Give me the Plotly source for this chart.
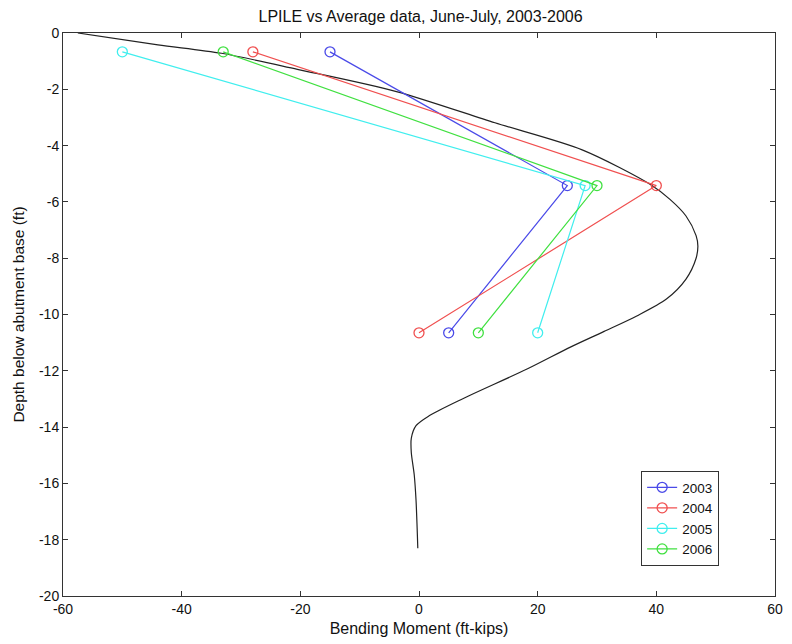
import plotly.graph_objects as go

# LPILE curve (moment ft-kips, depth ft)
lpile_moment = [-57.5, -44, -33.3, -20.5, -3.8, 12.8, 27.5, 39, 42.3, 45, 46.7, 47, 46.7, 45,
                41.7, 36.7, 31.2, 25.6, 18.3, 7.3, 1.7, -0.5, -1.3, -1.3, -0.8, -0.5, -0.2]
lpile_depth = [0, -0.42, -0.72, -1.29, -2.08, -3.19, -4.15, -5.38, -5.91, -6.5, -7.2, -7.57, -8.0, -8.74,
               -9.45, -10.05, -10.6, -11.15, -11.93, -13.0, -13.6, -13.95, -14.4, -14.9, -15.7, -16.6, -18.3]

gauge_depth = [-0.67, -5.42, -10.65]
years = ["2003", "2004", "2005", "2006"]
moments = {
    "2003": [-15, 25, 5],
    "2004": [-28, 40, 0],
    "2005": [-50, 28, 20],
    "2006": [-33, 30, 10],
}
colors = {"2003": "#4a4ae8", "2004": "#f05050", "2005": "#40eeee", "2006": "#40e040"}

x_ticks = [-60, -40, -20, 0, 20, 40, 60]
y_ticks = [0, -2, -4, -6, -8, -10, -12, -14, -16, -18, -20]

FONT = "Liberation Sans, Arial"

fig = go.Figure()
fig.add_trace(go.Scatter(x=lpile_moment, y=lpile_depth, mode="lines",
                         line=dict(color="#222222", width=1.2, shape="spline", smoothing=0.8),
                         showlegend=False, hoverinfo="skip"))
for yr in years:
    fig.add_trace(go.Scatter(x=moments[yr], y=gauge_depth, mode="lines+markers", name=yr,
                             line=dict(color=colors[yr], width=1.2),
                             marker=dict(symbol="circle-open", size=10, color=colors[yr],
                                         line=dict(width=1.3, color=colors[yr]))))

axis_common = dict(showgrid=False, zeroline=False, showline=True, linecolor="#333333",
                   linewidth=1, mirror="ticks", ticks="inside", ticklen=5,
                   tickcolor="#333333",
                   tickfont=dict(family=FONT, size=14, color="#111111"))

fig.update_layout(
    width=792, height=644,
    margin=dict(l=63, r=9, t=33, b=46),
    paper_bgcolor="white", plot_bgcolor="white",
    title=dict(text="LPILE vs Average data, June-July, 2003-2006", x=0.531, xanchor="center",
               y=0.975, yanchor="middle",
               font=dict(family=FONT, size=16, color="#111111")),
    xaxis=dict(range=[-60, 60], tickvals=x_ticks, ticktext=[str(v) for v in x_ticks],
               title=dict(text="Bending Moment (ft-kips)", standoff=7,
                          font=dict(family=FONT, size=16, color="#111111")),
               **axis_common),
    yaxis=dict(range=[-20, 0], tickvals=y_ticks, ticktext=[str(v) for v in y_ticks],
               title=dict(text="Depth below abutment base (ft)", standoff=10,
                          font=dict(family=FONT, size=15.5, color="#111111")),
               **axis_common),
    legend=dict(x=0.812, y=0.222, xanchor="left", yanchor="top",
                bgcolor="white", bordercolor="#333333", borderwidth=1,
                font=dict(family=FONT, size=13.5, color="#111111"),
                tracegroupgap=0, itemwidth=30),
)

fig.write_html("out.html")
